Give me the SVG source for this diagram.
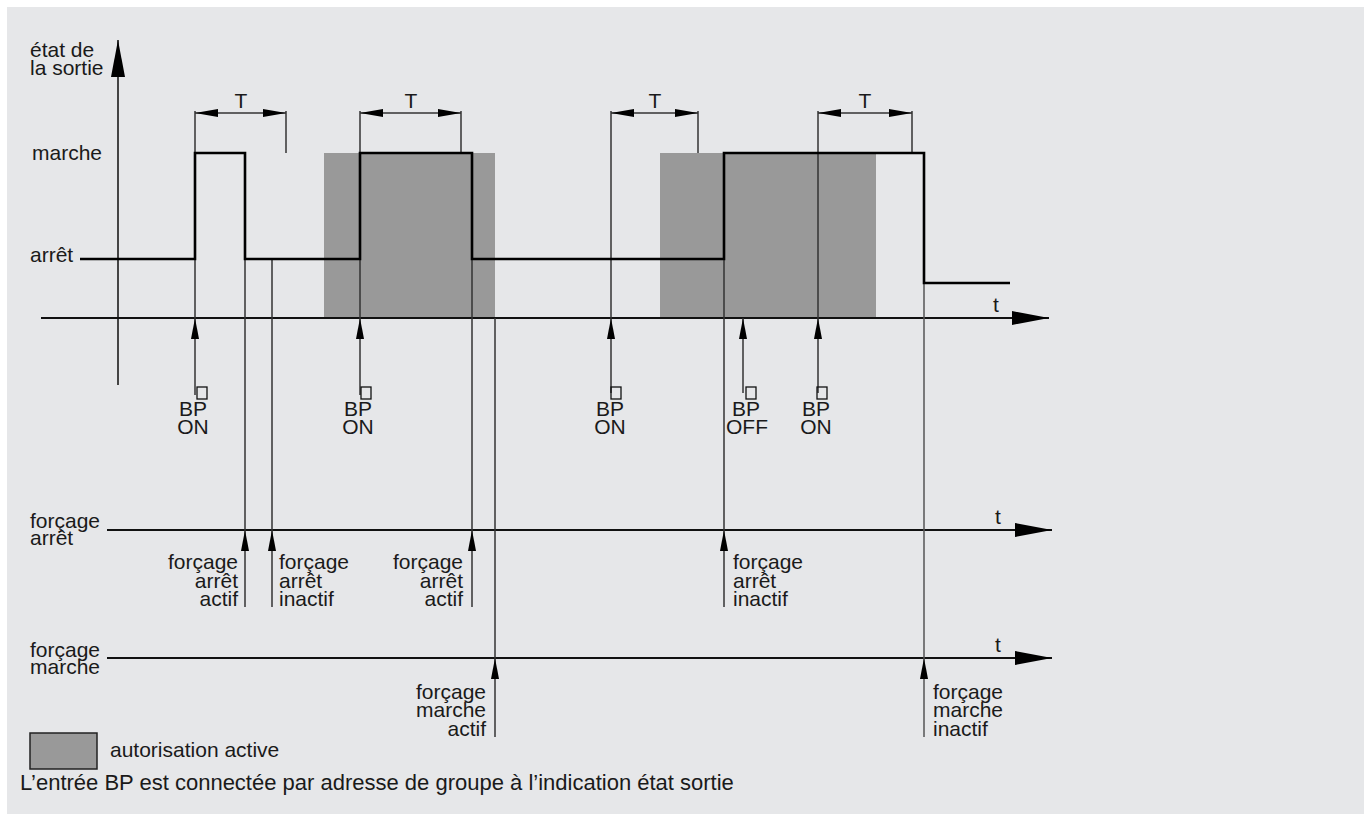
<svg xmlns="http://www.w3.org/2000/svg" width="1371" height="822" viewBox="0 0 1371 822">
<defs>
<marker id="ah" markerUnits="userSpaceOnUse" markerWidth="22" markerHeight="9" refX="21" refY="4" orient="auto"><path d="M0,0 L21,4 L0,8 z" fill="#000"/></marker>
<marker id="dm" markerUnits="userSpaceOnUse" markerWidth="24" markerHeight="9" refX="23" refY="4" orient="auto-start-reverse"><path d="M0,0 L23,4 L0,8 z" fill="#000"/></marker>
<marker id="big" markerUnits="userSpaceOnUse" markerWidth="38" markerHeight="15" refX="37" refY="7" orient="auto"><path d="M0,0 L37,7 L0,14 z" fill="#000"/></marker>
<style>
text{font-family:"Liberation Sans",Arial,sans-serif;font-size:21px;fill:#1a1a1a}
.e{text-anchor:end}
.m{text-anchor:middle}
.ax{stroke:#111;stroke-width:2;fill:none}
.th{stroke:#333;stroke-width:1.5;fill:none}
.sig{stroke:#000;stroke-width:2.6;fill:none}
.gr{fill:#999}
.box{fill:none;stroke:#111;stroke-width:1.3}
</style>
</defs>
<rect x="0" y="0" width="1371" height="822" fill="#fff"/>
<rect x="7" y="7" width="1357" height="807" fill="#e6e7e9"/>

<g id="autorisation-zones">
<rect class="gr" x="324" y="153" width="171" height="165"/>
<rect class="gr" x="660" y="153" width="216" height="165"/>
</g>

<g id="axis-labels">
<text x="30" y="57">état de</text>
<text x="30" y="75">la sortie</text>
<text x="32" y="160">marche</text>
<text x="30" y="262">arrêt</text>
<text x="30" y="528">forçage</text>
<text x="30" y="545">arrêt</text>
<text x="30" y="657">forçage</text>
<text x="30" y="674">marche</text>
<text x="993" y="312">t</text>
<text x="995" y="524">t</text>
<text x="995" y="652">t</text>
</g>

<g id="connectors">
<line class="ax" x1="118" y1="385" x2="118" y2="40" marker-end="url(#big)" style="stroke:#444"/>
<line class="ax" x1="41" y1="318" x2="1049" y2="318" marker-end="url(#big)"/>
<line class="ax" x1="107" y1="530" x2="1052" y2="530" marker-end="url(#big)"/>
<line class="ax" x1="107" y1="658" x2="1052" y2="658" marker-end="url(#big)"/>
<line class="th" x1="195" y1="111" x2="195" y2="153"/>
<line class="th" x1="286" y1="111" x2="286" y2="153"/>
<line class="th" x1="360" y1="111" x2="360" y2="318"/>
<line class="th" x1="461" y1="111" x2="461" y2="153"/>
<line class="th" x1="611" y1="111" x2="611" y2="318"/>
<line class="th" x1="698" y1="111" x2="698" y2="153"/>
<line class="th" x1="818" y1="111" x2="818" y2="318"/>
<line class="th" x1="912" y1="111" x2="912" y2="153"/>
<line class="th" x1="195" y1="113" x2="286" y2="113" marker-start="url(#dm)" marker-end="url(#dm)"/>
<line class="th" x1="360" y1="113" x2="461" y2="113" marker-start="url(#dm)" marker-end="url(#dm)"/>
<line class="th" x1="611" y1="113" x2="698" y2="113" marker-start="url(#dm)" marker-end="url(#dm)"/>
<line class="th" x1="818" y1="113" x2="912" y2="113" marker-start="url(#dm)" marker-end="url(#dm)"/>
<line class="th" x1="195" y1="259" x2="195" y2="318"/>
<line class="th" x1="195" y1="395" x2="195" y2="318" marker-end="url(#ah)"/>
<line class="th" x1="360" y1="395" x2="360" y2="318" marker-end="url(#ah)"/>
<line class="th" x1="611" y1="393" x2="611" y2="318" marker-end="url(#ah)"/>
<line class="th" x1="743" y1="393" x2="743" y2="318" marker-end="url(#ah)"/>
<line class="th" x1="818" y1="393" x2="818" y2="318" marker-end="url(#ah)"/>
<line class="th" x1="245" y1="259" x2="245" y2="530"/>
<line class="th" x1="245" y1="607" x2="245" y2="530" marker-end="url(#ah)"/>
<line class="th" x1="272" y1="259" x2="272" y2="530"/>
<line class="th" x1="272" y1="607" x2="272" y2="530" marker-end="url(#ah)"/>
<line class="th" x1="472" y1="259" x2="472" y2="530"/>
<line class="th" x1="472" y1="607" x2="472" y2="530" marker-end="url(#ah)"/>
<line class="th" x1="724" y1="259" x2="724" y2="530"/>
<line class="th" x1="724" y1="607" x2="724" y2="530" marker-end="url(#ah)"/>
<line class="th" x1="495" y1="318" x2="495" y2="658"/>
<line class="th" x1="495" y1="737" x2="495" y2="658" marker-end="url(#ah)"/>
<line class="th" x1="924" y1="283" x2="924" y2="658" style="stroke:#555"/>
<line class="th" x1="924" y1="737" x2="924" y2="658" marker-end="url(#ah)" style="stroke:#555"/>
</g>

<g id="signal">
<path class="sig" d="M80,259 H195 V153 H245 V259 H360 V153 H472 V259 H724 V153 H924 V283 H1010"/>
</g>

<g id="T-labels">
<text class="m" x="241" y="108">T</text>
<text class="m" x="411" y="108">T</text>
<text class="m" x="655" y="108">T</text>
<text class="m" x="865" y="108">T</text>
</g>

<g id="bp1"><rect class="box" x="197" y="387" width="10" height="12"/><text class="m" x="193" y="416">BP</text><text class="m" x="193" y="434">ON</text></g>
<g id="bp2"><rect class="box" x="361" y="387" width="10" height="12"/><text class="m" x="358" y="416">BP</text><text class="m" x="358" y="434">ON</text></g>
<g id="bp3"><rect class="box" x="611" y="387" width="10" height="12"/><text class="m" x="610" y="416">BP</text><text class="m" x="610" y="434">ON</text></g>
<g id="bp4"><rect class="box" x="746" y="387" width="10" height="12"/><text class="m" x="746" y="416">BP</text><text class="m" x="747" y="434">OFF</text></g>
<g id="bp5"><rect class="box" x="817" y="387" width="10" height="12"/><text class="m" x="816" y="416">BP</text><text class="m" x="816" y="434">ON</text></g>

<g id="fa1"><text class="e" x="238" y="569">forçage</text><text class="e" x="238" y="588">arrêt</text><text class="e" x="238" y="606">actif</text></g>
<g id="fa2"><text x="279" y="569">forçage</text><text x="279" y="588">arrêt</text><text x="279" y="606">inactif</text></g>
<g id="fa3"><text class="e" x="463" y="569">forçage</text><text class="e" x="463" y="588">arrêt</text><text class="e" x="463" y="606">actif</text></g>
<g id="fa4"><text x="733" y="569">forçage</text><text x="733" y="588">arrêt</text><text x="733" y="606">inactif</text></g>
<g id="fm1"><text class="e" x="486" y="699">forçage</text><text class="e" x="486" y="717">marche</text><text class="e" x="486" y="736">actif</text></g>
<g id="fm2"><text x="933" y="699">forçage</text><text x="933" y="717">marche</text><text x="933" y="736">inactif</text></g>

<g id="legend">
<rect x="30" y="733" width="67" height="36" fill="#999" stroke="#222" stroke-width="1.5"/>
<text x="110" y="757">autorisation active</text>
<text x="20" y="790" style="font-size:22px">L’entrée BP est connectée par adresse de groupe à l’indication état sortie</text>
</g>
</svg>
